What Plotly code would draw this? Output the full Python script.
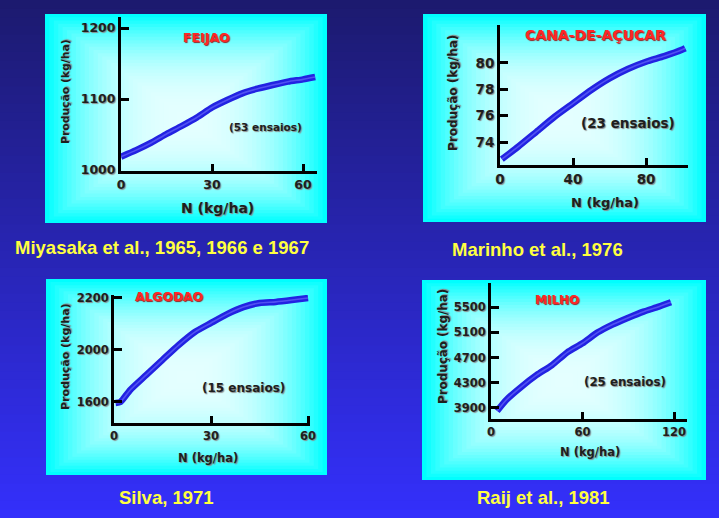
import plotly.graph_objects as go

W, H = 719, 518

# ---------------- data ----------------
feijao_n = [0, 5, 10, 15, 20, 25, 30, 35, 40, 45, 50, 55, 60, 64]
feijao_y = [1018.7, 1028, 1038.5, 1050.7, 1062, 1074, 1088, 1098.6, 1108, 1114.5, 1119.7, 1124.4, 1127.7, 1131]
feijao_xticks = [0, 30, 60]
feijao_yticks = [1000, 1100, 1200]

cana_n = [1, 10, 20, 30, 40, 50, 60, 70, 80, 90, 100, 101.5]
cana_y = [72.7, 73.65, 74.78, 75.92, 76.93, 77.94, 78.82, 79.53, 80.08, 80.5, 81.0, 81.1]
cana_xticks = [0, 40, 80]
cana_yticks = [74, 76, 78, 80]

algodao_n = [0.5, 2, 5, 10, 15, 20, 25, 30, 35, 40, 45, 50, 55, 60]
algodao_y = [1796, 1800, 1846, 1904, 1962, 2019, 2069, 2104, 2138, 2165, 2181, 2185, 2192, 2200]
algodao_xticks = [0, 30, 60]
algodao_yticks = [1800, 2000, 2200]
algodao_yticklabels = ["1600", "2000", "2200"]

milho_n = [4, 10, 20, 30, 40, 50, 60, 70, 80, 90, 100, 110, 118]
milho_y = [3852, 4027, 4238, 4424, 4582, 4784, 4927, 5101, 5228, 5333, 5429, 5508, 5578]
milho_xticks = [0, 60, 120]
milho_yticks = [3900, 4300, 4700, 5100, 5500]

crops = ["FEIJAO", "CANA-DE-AÇUCAR", "ALGODAO", "MILHO"]
ensaios = ["(53 ensaios)", "(23 ensaios)", "(15 ensaios)", "(25 ensaios)"]
sources = ["Miyasaka et al., 1965, 1966 e 1967", "Marinho et al., 1976", "Silva, 1971", "Raij et al., 1981"]
xlabel = "N (kg/ha)"
ylabel = "Produção (kg/ha)"

# ---------------- layout helpers ----------------
def px(x):
    return x / W

def py(y):
    return 1 - y / H

TXT = "#1e1e1e"
FONT = "DejaVu Sans"
SHADOW = "1px 1px 1px #8a8a8a"

panels = [
    dict(box=(45, 14, 327, 223), dom=(121, 17, 317, 171), xr=[0, 64.6], yr=[998.6, 1215.5],
         n=feijao_n, y=feijao_y, xt=feijao_xticks, yt=feijao_yticks, ytl=None, tick=12.5,
         title=(207, 38, 12.5), ens=(265, 127, 10.5), xl=(217, 208, 14), yl=(66, 92, 10.8)),
    dict(box=(423, 14, 706, 222), dom=(500, 25, 688, 165), xr=[0, 103], yr=[72.26, 82.86],
         n=cana_n, y=cana_y, xt=cana_xticks, yt=cana_yticks, ytl=None, tick=13.5,
         title=(595, 35, 14), ens=(628, 123, 13.5), xl=(605, 202, 13), yl=(453, 93, 12)),
    dict(box=(46, 279, 327, 475), dom=(114, 295, 310, 423), xr=[0, 60.6], yr=[1719, 2211.5],
         n=algodao_n, y=algodao_y, xt=algodao_xticks, yt=algodao_yticks, ytl=algodao_yticklabels, tick=11.5,
         title=(169, 297, 12.3), ens=(243, 388, 12), xl=(208, 458, 11.5), yl=(65, 357, 11)),
    dict(box=(422, 280, 706, 480), dom=(491, 283, 687, 419), xr=[0, 128.5], yr=[3725, 5884],
         n=milho_n, y=milho_y, xt=milho_xticks, yt=milho_yticks, ytl=None, tick=11.5,
         title=(557, 300, 12), ens=(625, 382, 11.8), xl=(590, 452, 11.5), yl=(443, 347, 11.9)),
]
caption_pos = [(162, 248), (537, 250), (166, 497), (543, 497)]

fig = go.Figure()
shapes = []
annotations = []

# page background gradient (vertical)
top_c = (28, 26, 110)
bot_c = (52, 48, 252)
NS = 60
for i in range(NS):
    t = (i + 0.5) / NS
    c = tuple(int(round(top_c[k] + (bot_c[k] - top_c[k]) * t)) for k in range(3))
    y0 = H * i / NS
    y1 = H * (i + 1) / NS + 0.8
    shapes.append(dict(type="rect", xref="paper", yref="paper", layer="below",
                       x0=-0.02, x1=1.02, y0=py(min(y1, H + 12)) if i < NS - 1 else -0.03,
                       y1=py(y0) if i > 0 else 1.03, line_width=0,
                       fillcolor="rgb(%d,%d,%d)" % c))

# panel backgrounds (rectangular "from center" gradient)
K = 32
for p in panels:
    x0, y0, x1, y1 = p["box"]
    cx, cy = (x0 + x1) / 2, (y0 + y1) / 2
    hw, hh = (x1 - x0) / 2, (y1 - y0) / 2
    for k in range(K):
        s = 1 - k / K  # 1 = outer edge
        r = int(round(228 * (1 - s ** 2.5)))
        shapes.append(dict(type="rect", xref="paper", yref="paper", layer="below",
                           x0=px(cx - hw * s), x1=px(cx + hw * s),
                           y0=py(cy + hh * s), y1=py(cy - hh * s), line_width=0,
                           fillcolor="rgb(%d,255,255)" % r))

layout_axes = {}
for i, p in enumerate(panels):
    sfx = "" if i == 0 else str(i + 1)
    dx0, dy0, dx1, dy1 = p["dom"]
    fig.add_trace(go.Scatter(
        x=p["n"], y=p["y"], mode="lines", xaxis="x" + sfx, yaxis="y" + sfx,
        line=dict(color="rgb(34,34,226)", width=6.5, shape="spline", smoothing=0.6),
        showlegend=False, hoverinfo="skip"))
    fig.add_trace(go.Scatter(
        x=p["n"], y=p["y"], mode="lines", xaxis="x" + sfx, yaxis="y" + sfx,
        line=dict(color="rgba(120,120,255,0.55)", width=1.6, shape="spline", smoothing=0.6),
        showlegend=False, hoverinfo="skip"))
    tf = dict(family=FONT, size=p["tick"], color=TXT, weight="bold", shadow=SHADOW)
    layout_axes["xaxis" + sfx] = dict(
        domain=[px(dx0), px(dx1)], range=p["xr"], anchor="y" + sfx, automargin=False,
        showline=True, linecolor="black", linewidth=3, showgrid=False, zeroline=False,
        ticks="inside", ticklen=7, tickwidth=3, tickcolor="black",
        tickvals=p["xt"], ticktext=[str(v) for v in p["xt"]], tickfont=tf, fixedrange=True)
    layout_axes["yaxis" + sfx] = dict(
        domain=[py(dy1), py(dy0)], range=p["yr"], anchor="x" + sfx, automargin=False,
        showline=True, linecolor="black", linewidth=3, showgrid=False, zeroline=False,
        ticks="inside", ticklen=8, tickwidth=3, tickcolor="black",
        tickvals=p["yt"], ticktext=p["ytl"] if p["ytl"] else [str(v) for v in p["yt"]],
        tickfont=tf, fixedrange=True)

    tx, ty, ts = p["title"]
    annotations.append(dict(x=px(tx), y=py(ty), xref="paper", yref="paper", text=crops[i],
                            showarrow=False, xanchor="center", yanchor="middle",
                            font=dict(family=FONT, size=ts, color="#ff2626", weight="bold",
                                      shadow="1px 1px 1px #9a2020")))
    ex, ey, es = p["ens"]
    annotations.append(dict(x=px(ex), y=py(ey), xref="paper", yref="paper", text=ensaios[i],
                            showarrow=False, xanchor="center", yanchor="middle",
                            font=dict(family=FONT, size=es, color=TXT, weight="bold", shadow=SHADOW)))
    lx, ly, ls = p["xl"]
    annotations.append(dict(x=px(lx), y=py(ly), xref="paper", yref="paper", text=xlabel,
                            showarrow=False, xanchor="center", yanchor="middle",
                            font=dict(family=FONT, size=ls, color=TXT, weight="bold", shadow=SHADOW)))
    vx, vy, vs = p["yl"]
    annotations.append(dict(x=px(vx), y=py(vy), xref="paper", yref="paper", text=ylabel,
                            showarrow=False, xanchor="center", yanchor="middle", textangle=-90,
                            font=dict(family=FONT, size=vs, color=TXT, weight="bold", shadow=SHADOW)))
    cxp, cyp = caption_pos[i]
    annotations.append(dict(x=px(cxp), y=py(cyp), xref="paper", yref="paper", text=sources[i],
                            showarrow=False, xanchor="center", yanchor="middle",
                            font=dict(family="Liberation Sans", size=18.5,
                                      color="#ffff40", weight="bold")))

fig.update_layout(
    width=W, height=H, margin=dict(l=0, r=0, t=0, b=0, pad=0, autoexpand=False),
    paper_bgcolor="rgba(0,0,0,0)", plot_bgcolor="rgba(0,0,0,0)",
    shapes=shapes, annotations=annotations, showlegend=False,
    **layout_axes)

fig.write_html("out.html", config=dict(displayModeBar=False),
               post_script="document.documentElement.style.margin='0';"
                           "document.body.style.margin='0';document.body.style.padding='0';"
                           "document.body.style.background='linear-gradient(to bottom, rgb(28,26,110), rgb(52,48,252))';"
                           "document.body.style.minHeight='518px';")
